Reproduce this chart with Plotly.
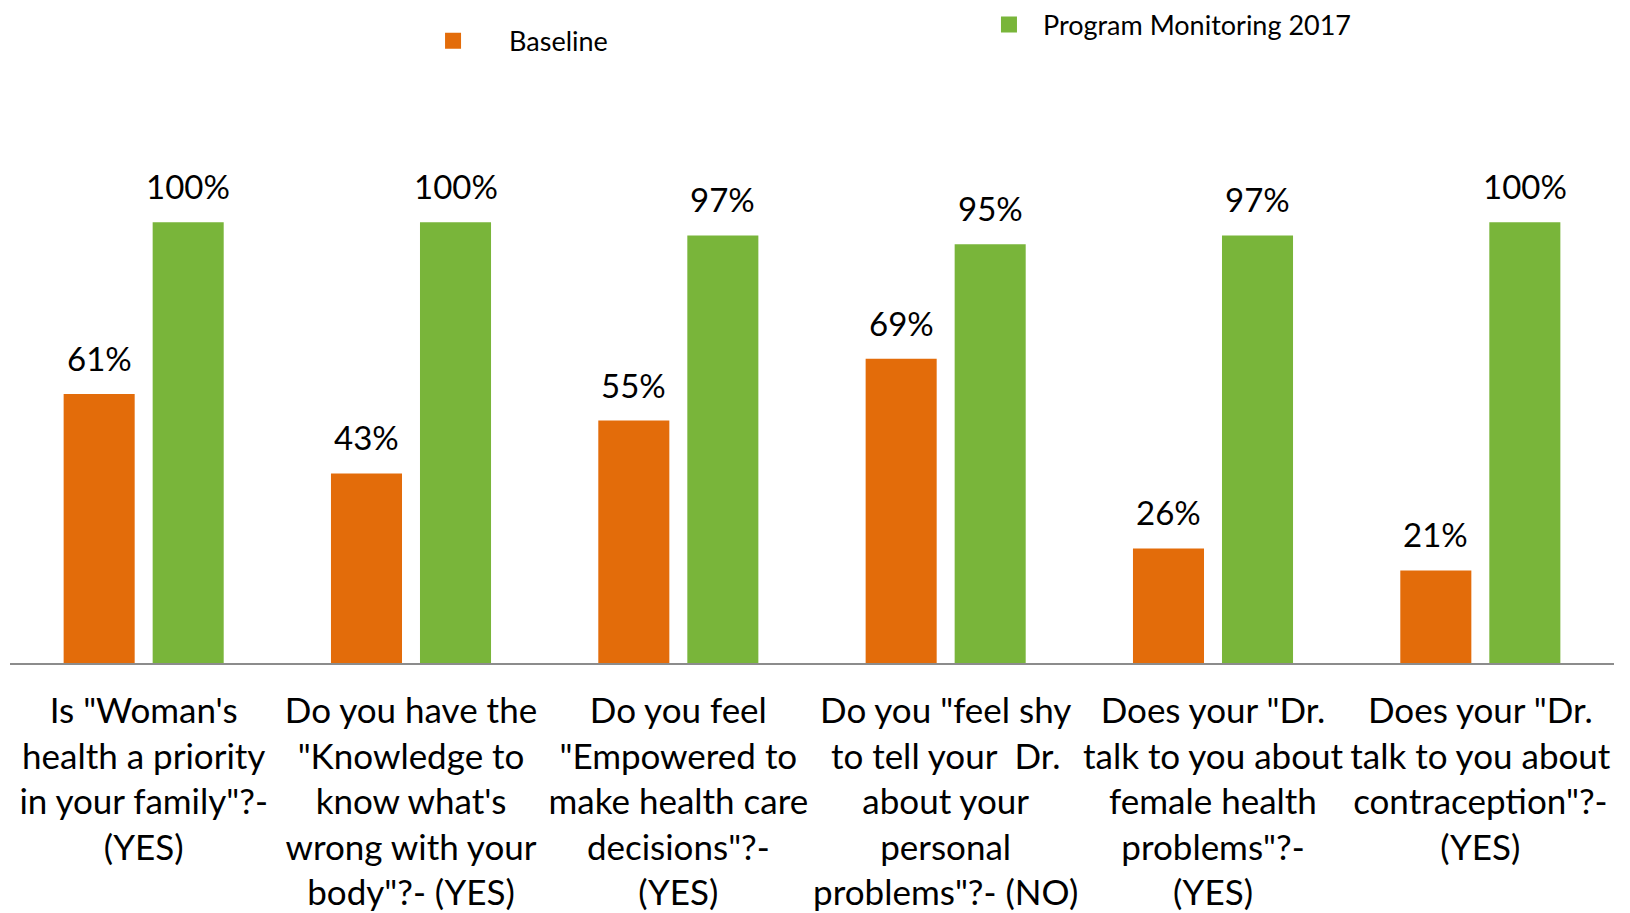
import plotly.graph_objects as go

categories = [
    'Is "Woman\'s<br>health a priority<br>in your family"?-<br>(YES)',
    'Do you have the<br>"Knowledge to<br>know what\'s<br>wrong with your<br>body"?- (YES)',
    'Do you feel<br>"Empowered to<br>make health care<br>decisions"?-<br>(YES)',
    'Do you "feel shy<br>to tell your  Dr.<br>about your<br>personal<br>problems"?- (NO)',
    'Does your "Dr.<br>talk to you about<br>female health<br>problems"?-<br>(YES)',
    'Does your "Dr.<br>talk to you about<br>contraception"?-<br>(YES)',
]
baseline = [61, 43, 55, 69, 26, 21]
monitoring = [100, 100, 97, 95, 97, 100]
series_names = ["Baseline", "Program Monitoring 2017"]

ORANGE = "#E36C0A"
GREEN = "#79B53A"
FONT = "Lato"

fig = go.Figure()
fig.add_trace(go.Bar(x=categories, y=baseline, name=series_names[0],
                     marker=dict(color=ORANGE, line=dict(width=0)), showlegend=False))
fig.add_trace(go.Bar(x=categories, y=monitoring, name=series_names[1],
                     marker=dict(color=GREEN, line=dict(width=0)), showlegend=False))

# legend entries
fig.add_trace(go.Scatter(x=[None], y=[None], mode="markers", name=series_names[0],
                         marker=dict(symbol="square", size=16, color=ORANGE),
                         legend="legend"))
fig.add_trace(go.Scatter(x=[None], y=[None], mode="markers", name=series_names[1],
                         marker=dict(symbol="square", size=16, color=GREEN),
                         legend="legend2"))

annotations = []
for cat, b, m in zip(categories, baseline, monitoring):
    annotations.append(dict(x=cat, y=b, text=f"{b}%", showarrow=False, xshift=-44.5,
                            yanchor="middle", yshift=36,
                            font=dict(family=FONT, size=33, color="black")))
    annotations.append(dict(x=cat, y=m, text=f"{m}%", showarrow=False, xshift=44.5,
                            yanchor="middle", yshift=36,
                            font=dict(family=FONT, size=33, color="black")))

fig.update_layout(
    width=1630, height=913,
    margin=dict(l=10, r=16, t=0, b=250, pad=0),
    paper_bgcolor="white", plot_bgcolor="white",
    barmode="group", bargap=0.334, bargroupgap=0.202,
    font=dict(family=FONT, color="black"),
    annotations=annotations,
    legend=dict(x=0.2413, y=0.9434, xanchor="left", yanchor="middle",
                itemwidth=102, font=dict(family=FONT, size=27, color="black"),
                bgcolor="rgba(0,0,0,0)"),
    legend2=dict(x=0.6016, y=0.9683, xanchor="left", yanchor="middle",
                 itemwidth=58, font=dict(family=FONT, size=27, color="black"),
                 bgcolor="rgba(0,0,0,0)"),
    xaxis=dict(showline=True, linecolor="#8C8C8C", linewidth=2, showgrid=False,
               ticks="outside", ticklen=16, tickcolor="rgba(0,0,0,0)",
               tickfont=dict(family=FONT, size=35, color="black"), tickangle=0),
    yaxis=dict(range=[0, 149.5], visible=False, showgrid=False, zeroline=False),
)

fig.write_html("out.html", config={"displayModeBar": False},
               post_script="document.body.style.margin='0';")
